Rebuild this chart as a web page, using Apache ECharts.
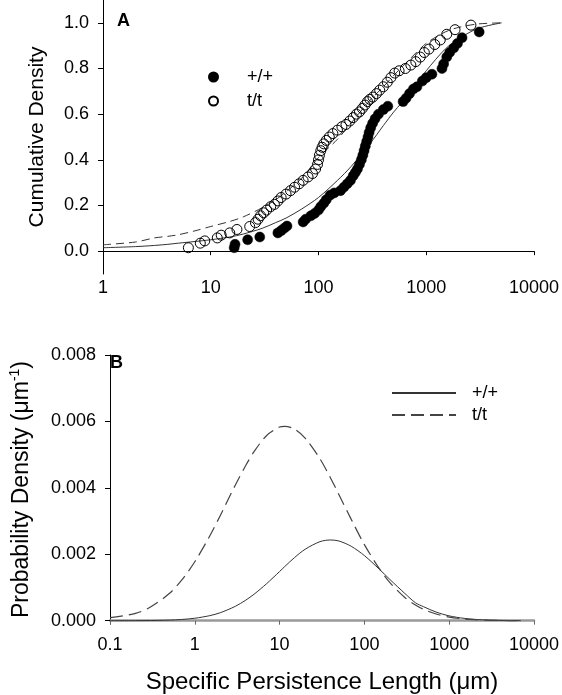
<!DOCTYPE html>
<html><head><meta charset="utf-8">
<script src="https://cdn.jsdelivr.net/npm/echarts@6/dist/echarts.min.js"></script>
<style>html,body{margin:0;padding:0;background:#fff}#c{width:562px;height:695px}</style>
</head><body><div id="c"></div>
<script>
// ---- Panel A: empirical cumulative data ----
const wtX = [16.5,16.8,22,28.5,42,45,48,51,72,76,85,92,100,105,112,118,128,140,160,172,185,198,210,220,230,240,250,258,265,272,280,288,295,305,318,335,360,400,440,610,650,700,760,820,920,1000,1130,1400,1450,1550,1650,1800,1950,2150,3100];
const wtY = [0.015,0.03,0.05,0.062,0.08,0.09,0.1,0.11,0.128,0.14,0.155,0.165,0.18,0.195,0.21,0.225,0.245,0.255,0.265,0.28,0.295,0.31,0.33,0.345,0.36,0.38,0.40,0.42,0.44,0.46,0.48,0.50,0.52,0.54,0.56,0.58,0.60,0.62,0.635,0.655,0.67,0.69,0.71,0.72,0.745,0.76,0.775,0.80,0.82,0.85,0.87,0.89,0.91,0.935,0.96];
const ttX = [6.2,8.0,8.8,11.5,12.5,15,17.5,23,26,27.5,29,31,33,36,39,42,45,50,55,60,66,72,80,88,94,98,100,102,105,108,112,118,126,136,150,165,180,195,210,225,240,255,270,285,300,320,345,370,400,435,470,510,560,640,720,800,880,960,1060,1200,1350,1550,1850,2600];
const ttY = [0.015,0.035,0.045,0.058,0.07,0.08,0.095,0.108,0.125,0.14,0.155,0.168,0.18,0.195,0.205,0.22,0.235,0.25,0.265,0.28,0.295,0.31,0.325,0.34,0.36,0.38,0.40,0.42,0.44,0.455,0.47,0.485,0.50,0.515,0.53,0.545,0.555,0.57,0.585,0.60,0.61,0.625,0.64,0.655,0.665,0.675,0.69,0.705,0.72,0.74,0.76,0.78,0.79,0.80,0.815,0.83,0.85,0.87,0.885,0.905,0.925,0.95,0.97,0.99];
// ---- Panel A: fitted cumulative curves ----
const fitX  = [1,2,3,4,5,7,10,15,20,30,40,50,70,100,150,200,300,400,500,700,1000,1500,2000,3000,5000];
const fitWt = [0.015,0.02,0.025,0.03,0.035,0.042,0.05,0.062,0.075,0.10,0.125,0.145,0.185,0.235,0.31,0.37,0.47,0.55,0.61,0.69,0.79,0.885,0.93,0.975,1.0];
const fitTt = [0.028,0.04,0.058,0.065,0.072,0.088,0.108,0.13,0.15,0.19,0.225,0.26,0.32,0.41,0.49,0.56,0.66,0.72,0.77,0.84,0.91,0.96,0.98,0.995,1.0];
// ---- Panel B: probability density curves ----
const pdfX  = [0.1,0.2,0.3,0.5,0.7,1,1.5,2,3,4,5,7,10,11.5,15,20,30,40,50,70,100,150,200,300,400,500,700,1000,1500,2000,3000,5000,7000];
const pdfWt = [0,2e-6,5e-6,1.7e-5,3.6e-5,7.3e-5,1.51e-4,2.4e-4,4.31e-4,6.2e-4,7.97e-4,1.11e-3,1.48e-3,1.63e-3,1.9e-3,2.15e-3,2.38e-3,2.43e-3,2.4e-3,2.24e-3,1.96e-3,1.55e-3,1.24e-3,8.2e-4,5.4e-4,4.2e-4,2.6e-4,1.45e-4,7e-5,4e-5,1.7e-5,5e-6,2e-6];
const pdfTt = [9e-5,2.19e-4,4.09e-4,8.18e-4,1.22e-3,1.774e-3,2.55e-3,3.17e-3,4.08e-3,4.68e-3,5.09e-3,5.57e-3,5.83e-3,5.85e-3,5.77e-3,5.50e-3,4.87e-3,4.29e-3,3.80e-3,3.05e-3,2.29e-3,1.565e-3,1.145e-3,6.97e-4,4.71e-4,3.40e-4,2.0e-4,1.08e-4,5.1e-5,2.9e-5,1.2e-5,4e-6,1e-6];
// ---- ticks ----
const yTicksA = [0,0.2,0.4,0.6,0.8,1.0];
const yTicksB = [0,0.002,0.004,0.006,0.008];
const xTicksA = [1,10,100,1000,10000];
const xTicksB = [0.1,1,10,100,1000,10000];

const zip = (a,b) => a.map((v,i)=>[v,b[i]]);
const FF = '"Liberation Sans", Arial, sans-serif';
const fmtLog = v => String(+(+v).toPrecision(6));

const chart = echarts.init(document.getElementById('c'), null, {renderer:'canvas'});
chart.setOption({
  animation:false,
  backgroundColor:'#fff',
  textStyle:{fontFamily:FF, color:'#000'},
  grid:[{left:103, top:0, width:432, height:274},
        {left:103, top:355, width:432.5, height:271}],
  xAxis:[
    {gridIndex:0, type:'log', logBase:10, min:1, max:10000,
     axisLine:{lineStyle:{color:'#000',width:1}},
     axisTick:{length:4, customValues:xTicksA, lineStyle:{color:'#000'}},
     axisLabel:{customValues:xTicksA, fontSize:18, margin:5, color:'#000', fontFamily:FF, formatter:fmtLog},
     splitLine:{show:false}, minorTick:{show:false}},
    {gridIndex:1, type:'log', logBase:10, min:0.1, max:10000,
     axisLine:{lineStyle:{color:'#999',width:2.5}},
     axisTick:{length:4, customValues:xTicksB, lineStyle:{color:'#666'}},
     axisLabel:{customValues:xTicksB, fontSize:18, margin:12, color:'#000', fontFamily:FF, formatter:fmtLog},
     splitLine:{show:false},
     name:'Specific Persistence Length (\u03bcm)', nameLocation:'middle', nameGap:46,
     nameTextStyle:{fontSize:24, color:'#000', fontFamily:FF}}
  ],
  yAxis:[
    {gridIndex:0, type:'value', min:-0.1, max:1.1,
     axisLine:{show:true, lineStyle:{color:'#000',width:1}},
     axisTick:{show:true, length:5, customValues:yTicksA, lineStyle:{color:'#000'}},
     axisLabel:{customValues:yTicksA, fontSize:18, margin:14, color:'#000', fontFamily:FF, formatter:v=>(+v).toFixed(1)},
     splitLine:{show:false},
     name:'Cumulative Density', nameLocation:'middle', nameGap:55,
     nameTextStyle:{fontSize:21, color:'#000', fontFamily:FF}},
    {gridIndex:1, type:'value', min:-0.0001, max:0.008,
     axisLine:{show:true, lineStyle:{color:'#000',width:1}},
     axisTick:{show:true, length:5, customValues:yTicksB, lineStyle:{color:'#000'}},
     axisLabel:{customValues:yTicksB, fontSize:18, margin:14, color:'#000', fontFamily:FF, formatter:v=>(+v).toFixed(3)},
     splitLine:{show:false},
     name:'{a|Probability Density (\u03bcm}{s|-1}{a|)}', nameLocation:'middle', nameGap:74,
     nameTextStyle:{fontSize:23, color:'#000', fontFamily:FF,
       rich:{a:{fontSize:23, lineHeight:28, fontFamily:FF, color:'#000'},
             s:{fontSize:14, lineHeight:28, verticalAlign:'top', fontFamily:FF, color:'#000'}}}}
  ],
  legend:[
    {data:['+/+','t/t'], orient:'vertical', left:203, top:62, itemWidth:9, itemHeight:9, itemGap:4,
     itemStyle:{opacity:1},
     textStyle:{fontSize:18, lineHeight:20, padding:[0,0,0,24], color:'#000', fontFamily:FF}, selectedMode:false},
    {data:['wtB','ttB'], orient:'vertical', left:386, top:378, itemWidth:64, itemHeight:12, itemGap:2,
     itemStyle:{opacity:0},
     formatter:n=>n==='wtB'?'+/+':'t/t',
     textStyle:{fontSize:18, lineHeight:20, padding:[0,0,0,11], color:'#000', fontFamily:FF}, selectedMode:false}
  ],
  graphic:[
    {type:'text', left:117, top:12, style:{text:'A', font:'bold 18px '+FF, fill:'#000'}},
    {type:'text', left:110, top:354, style:{text:'B', font:'bold 18px '+FF, fill:'#000'}}
  ],
  series:[
    {name:'fitWt', type:'line', xAxisIndex:0, yAxisIndex:0, data:zip(fitX,fitWt), symbol:'none', smooth:0.3,
     lineStyle:{color:'#333', width:1}, silent:true, z:1},
    {name:'fitTt', type:'line', xAxisIndex:0, yAxisIndex:0, data:zip(fitX,fitTt), symbol:'none', smooth:0.3,
     lineStyle:{color:'#333', width:1, type:[8,5]}, silent:true, z:1},
    {name:'t/t', type:'scatter', xAxisIndex:0, yAxisIndex:0, data:zip(ttX,ttY), symbol:'circle', symbolSize:10,
     itemStyle:{color:'rgba(255,255,255,0)', borderColor:'#000', borderWidth:1, opacity:1}, z:3},
    {name:'+/+', type:'scatter', xAxisIndex:0, yAxisIndex:0, data:zip(wtX,wtY), symbol:'circle', symbolSize:10,
     itemStyle:{color:'#000', borderColor:'#000', borderWidth:0.5, opacity:1}, z:4},
    {name:'wtB', type:'line', xAxisIndex:1, yAxisIndex:1, data:zip(pdfX,pdfWt), symbol:'none', smooth:0.3,
     itemStyle:{color:'#333'},
     lineStyle:{color:'#333', width:1}, silent:true},
    {name:'ttB', type:'line', xAxisIndex:1, yAxisIndex:1, data:zip(pdfX,pdfTt), symbol:'none', smooth:0.3,
     itemStyle:{color:'#444'},
     lineStyle:{color:'#444', width:1.2, type:[13,6]}, silent:true}
  ]
});
</script></body></html>
